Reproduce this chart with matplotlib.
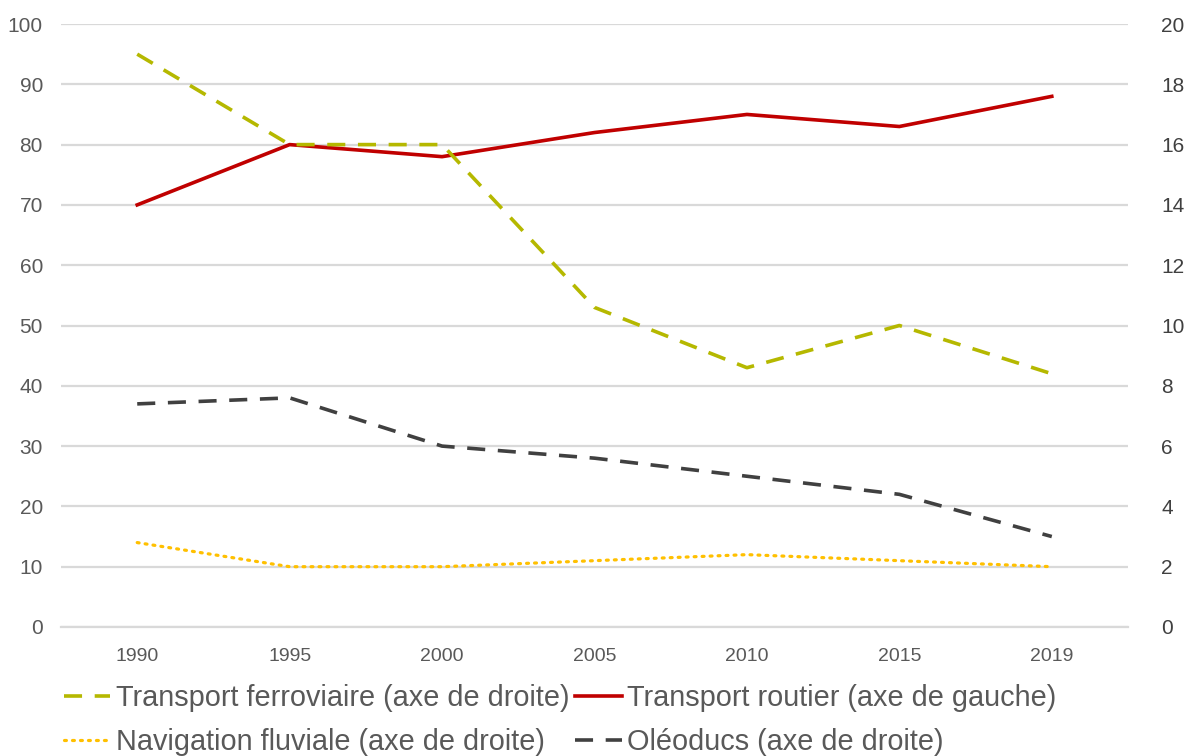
import matplotlib
matplotlib.use("Agg")
import matplotlib.pyplot as plt
import numpy as np

plt.rcParams['font.family'] = ['Liberation Sans', 'DejaVu Sans']

# Data
years = ['1990', '1995', '2000', '2005', '2010', '2015', '2019']
routier = [70, 80, 78, 82, 85, 83, 88]            # left axis
ferroviaire = [19, 16, 16, 10.6, 8.6, 10, 8.4]     # right axis
fluviale = [2.8, 2.0, 2.0, 2.2, 2.4, 2.2, 2.0]     # right axis
oleoducs = [7.4, 7.6, 6.0, 5.6, 5.0, 4.4, 3.0]     # right axis

text_col = '#595959'
grid_col = '#D9D9D9'

fig = plt.figure(figsize=(11.86, 7.56), dpi=100)
ax = fig.add_axes([61/1186, 1-627/756, (1128-61)/1186, (627-24)/756])
ax2 = ax.twinx()

x = np.arange(len(years))

ax.set_ylim(0, 100)
ax2.set_ylim(0, 20)
ax.set_xlim(-0.5, len(years)-0.5)
ax.set_yticks(np.arange(0, 101, 10))
ax2.set_yticks(np.arange(0, 21, 2))
ax.yaxis.grid(True, color=grid_col, linewidth=1.6)
ax.set_axisbelow(True)

for a in (ax, ax2):
    for s in a.spines.values():
        s.set_visible(False)
ax.spines['bottom'].set_visible(True)
ax.spines['bottom'].set_color(grid_col)
ax.spines['bottom'].set_linewidth(1.6)

ax.set_xticks(x)
ax.set_xticklabels(years)
ax.tick_params(axis='x', length=0, pad=15, labelsize=14, labelcolor=text_col)
ax.tick_params(axis='y', length=0, pad=13, labelsize=15, labelcolor=text_col)
ax2.tick_params(axis='y', length=0, pad=24, labelsize=15, labelcolor='#404040')

l_routier, = ax.plot(x, routier, color='#C00000', linewidth=2.6, zorder=3)
l_ferro, = ax2.plot(x, ferroviaire, color='#B5B800', linewidth=2.6,
                    dashes=(5, 3.5))
l_fluv, = ax2.plot(x, fluviale, color='#FFC000', linewidth=2.3,
                   dashes=(0.6, 1.9), dash_capstyle='round')
l_oleo, = ax2.plot(x, oleoducs, color='#404040', linewidth=2.6,
                   dashes=(5, 3.5))

handles = [l_ferro, l_fluv, l_routier, l_oleo]
labels = ['Transport ferroviaire (axe de droite)',
          'Navigation fluviale (axe de droite)',
          'Transport routier (axe de gauche)',
          'Oléoducs (axe de droite)']
leg = fig.legend(handles, labels, ncol=2, loc='upper left',
                 bbox_to_anchor=(64/1186, 1-684/756), frameon=False,
                 fontsize=20.8, handlelength=1.6, handletextpad=0.2,
                 columnspacing=0.2, labelspacing=0.57, borderpad=0,
                 borderaxespad=0)
for t in leg.get_texts():
    t.set_color(text_col)

fig.savefig('out.png', dpi=100)
